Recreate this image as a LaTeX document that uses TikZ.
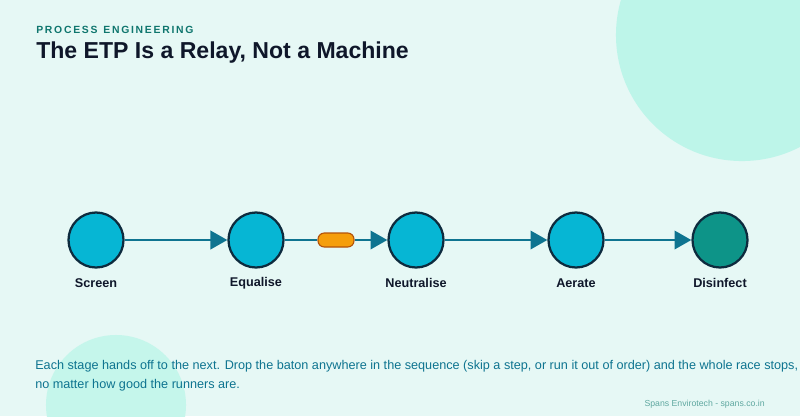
\documentclass[tikz,border=0pt]{standalone}
\usepackage{fontspec}
\setmainfont{Liberation Sans}
\usepackage{xcolor}
\usetikzlibrary{arrows.meta,positioning}
\definecolor{bgmint}{HTML}{E6F8F5}
\definecolor{blobmint}{HTML}{BDF5E9}
\definecolor{stagecyan}{HTML}{06B6D4}
\definecolor{stagedark}{HTML}{0D2B3E}
\definecolor{flowteal}{HTML}{0E7490}
\definecolor{finalteal}{HTML}{0D9488}
\definecolor{batonorange}{HTML}{F59E0B}
\definecolor{batonedge}{HTML}{B45309}
\definecolor{headteal}{HTML}{0F766E}
\definecolor{titleink}{HTML}{0F172A}
\definecolor{footgray}{HTML}{5FA8A0}

\begin{document}
\begin{tikzpicture}[
    x=0.025cm, y=-0.025cm,
    stage/.style={circle, draw=stagedark, line width=1.6pt, fill=stagecyan, minimum size=1.375cm, inner sep=0pt},
    label/.style={font=\bfseries\fontsize{9}{11}\selectfont, text=titleink},
    baton/.style={rectangle, rounded corners=4.5pt, draw=batonedge, line width=0.8pt, fill=batonorange, minimum width=0.9cm, minimum height=0.35cm},
    arrow/.style={-{Triangle[length=12pt, width=13pt]}, line width=2pt, flowteal}
]

% Background
\fill[bgmint] (0,0) rectangle (800,416);
\useasboundingbox (0,0) rectangle (800,416);
\begin{scope}
    \clip (0,0) rectangle (800,416);
    \fill[blobmint] (742,35) circle (3.15cm);
    \fill[blobmint!80!bgmint] (116,405) circle (1.75cm);
\end{scope}

% Heading
\node[font=\bfseries\fontsize{7.4}{9}\selectfont, text=headteal, anchor=west, inner sep=0pt] (kicker) at (36,30) {P\,R\,O\,C\,E\,S\,S\ \ E\,N\,G\,I\,N\,E\,E\,R\,I\,N\,G};
\node[font=\bfseries\fontsize{16.4}{19}\selectfont, text=titleink, anchor=west, inner sep=0pt] (title) at (36,53) {The ETP Is a Relay, Not a Machine};

% Stages
\node[stage] (screen) at (96,240) {};
\node[stage] (equalise) at (256,240) {};
\node[stage] (neutral) at (416,240) {};
\node[stage] (aerate) at (576,240) {};
\node[stage, fill=finalteal] (disinfect) at (720,240) {};
\node[baton] (baton) at (336,240) {};

\foreach \n/\lbl in {screen/Screen, equalise/Equalise, neutral/Neutralise, aerate/Aerate, disinfect/Disinfect} {
    \node[label] at ([yshift=-1.08cm]\n) {\lbl};
}

% Flow
\draw[arrow] (screen) -- (equalise);
\draw[line width=2pt, flowteal] (equalise) -- (baton);
\draw[arrow] (baton) -- (neutral);
\draw[arrow] (neutral) -- (aerate);
\draw[arrow] (aerate) -- (disinfect);

% Caption
\node[font=\fontsize{9}{13.5}\selectfont, text=flowteal, anchor=north west, align=left, inner sep=0pt] (caption) at (35,360) {Each stage hands off to the next. Drop the baton anywhere in the sequence (skip a step, or run it out of order) and the whole race stops,\\no matter how good the runners are.};
\node[font=\fontsize{6.2}{8}\selectfont, text=footgray, anchor=east, inner sep=0pt] (footer) at (765,404) {Spans Envirotech - spans.co.in};

\end{tikzpicture}
\end{document}
